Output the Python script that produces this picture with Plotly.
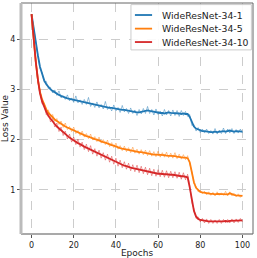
import plotly.graph_objects as go

epochs = list(range(101))

wrn1_smooth = [4.50,4.20,3.95,3.68,3.45,3.30,3.18,3.10,3.04,3.00,
2.97,2.94,2.91,2.89,2.87,2.85,2.84,2.82,2.81,2.80,
2.79,2.78,2.77,2.76,2.75,2.74,2.73,2.72,2.71,2.70,
2.69,2.68,2.67,2.66,2.66,2.65,2.64,2.63,2.63,2.62,
2.61,2.61,2.60,2.59,2.59,2.58,2.58,2.57,2.56,2.55,
2.54,2.54,2.55,2.56,2.57,2.58,2.57,2.56,2.55,2.54,
2.54,2.53,2.53,2.52,2.53,2.54,2.53,2.53,2.52,2.53,
2.52,2.51,2.52,2.51,2.51,2.45,2.34,2.26,2.22,2.20,
2.18,2.17,2.17,2.16,2.16,2.15,2.15,2.16,2.15,2.16,
2.16,2.17,2.16,2.17,2.18,2.17,2.16,2.17,2.17,2.16,2.16]

wrn1_raw = [4.50,4.24,3.92,3.74,3.41,3.33,3.14,3.16,3.01,3.04,
2.93,2.99,2.88,2.97,2.83,2.87,2.80,2.89,2.77,2.83,
2.74,2.87,2.73,2.79,2.70,2.80,2.70,2.84,2.66,2.73,
2.64,2.75,2.63,2.70,2.61,2.76,2.60,2.66,2.57,2.69,
2.57,2.64,2.54,2.68,2.55,2.62,2.52,2.63,2.52,2.59,
2.48,2.60,2.51,2.62,2.52,2.66,2.52,2.60,2.49,2.61,
2.50,2.57,2.47,2.60,2.49,2.58,2.47,2.59,2.48,2.58,
2.46,2.58,2.48,2.56,2.46,2.50,2.28,2.30,2.17,2.24,
2.14,2.21,2.13,2.21,2.12,2.18,2.11,2.22,2.11,2.19,
2.12,2.23,2.12,2.21,2.13,2.22,2.12,2.20,2.13,2.21,2.13]

wrn5_smooth = [4.50,4.00,3.55,3.20,2.95,2.80,2.68,2.60,2.53,2.48,
2.44,2.40,2.37,2.34,2.31,2.28,2.26,2.24,2.22,2.20,
2.18,2.16,2.14,2.12,2.11,2.09,2.07,2.06,2.04,2.03,
2.01,2.00,1.98,1.97,1.95,1.94,1.92,1.90,1.89,1.88,
1.86,1.85,1.83,1.82,1.81,1.80,1.79,1.78,1.78,1.77,
1.76,1.75,1.75,1.74,1.73,1.72,1.72,1.71,1.70,1.70,
1.70,1.69,1.69,1.69,1.68,1.68,1.68,1.67,1.67,1.66,
1.65,1.65,1.64,1.64,1.63,1.55,1.33,1.15,1.04,0.99,
0.96,0.95,0.94,0.93,0.93,0.92,0.92,0.91,0.92,0.92,
0.91,0.92,0.92,0.91,0.93,0.91,0.90,0.89,0.89,0.88,0.88]

wrn5_raw = [4.50,3.96,3.60,3.15,2.99,2.76,2.73,2.56,2.59,2.44,
2.50,2.36,2.42,2.30,2.37,2.24,2.33,2.20,2.26,2.16,
2.25,2.12,2.18,2.08,2.17,2.05,2.12,2.02,2.11,1.99,
2.06,1.96,2.05,1.93,2.00,1.90,1.99,1.86,1.94,1.84,
1.93,1.81,1.88,1.78,1.87,1.76,1.84,1.74,1.85,1.73,
1.81,1.71,1.80,1.70,1.79,1.68,1.78,1.67,1.76,1.66,
1.77,1.65,1.74,1.65,1.75,1.64,1.73,1.63,1.74,1.62,
1.71,1.61,1.70,1.60,1.68,1.52,1.36,1.12,1.07,0.96,
0.99,0.92,0.97,0.90,0.96,0.89,0.95,0.88,0.96,0.89,
0.94,0.89,0.97,0.88,0.96,0.88,0.93,0.86,0.92,0.85,0.90]

wrn10_smooth = [4.50,4.00,3.55,3.20,2.92,2.76,2.64,2.55,2.47,2.41,
2.36,2.31,2.26,2.22,2.18,2.14,2.11,2.07,2.04,2.01,
1.98,1.96,1.93,1.91,1.88,1.86,1.84,1.82,1.80,1.77,
1.75,1.73,1.71,1.69,1.67,1.65,1.63,1.61,1.59,1.57,
1.55,1.53,1.51,1.50,1.48,1.47,1.45,1.44,1.43,1.42,
1.41,1.40,1.39,1.38,1.37,1.36,1.35,1.34,1.33,1.33,
1.32,1.32,1.31,1.31,1.31,1.30,1.30,1.30,1.29,1.29,
1.28,1.27,1.27,1.26,1.25,1.05,0.78,0.58,0.47,0.42,
0.40,0.39,0.38,0.38,0.37,0.37,0.37,0.36,0.37,0.37,
0.37,0.37,0.38,0.37,0.38,0.38,0.38,0.38,0.39,0.39,0.39]

wrn10_raw = [4.50,3.95,3.60,3.14,2.97,2.71,2.70,2.49,2.53,2.35,
2.42,2.25,2.33,2.16,2.25,2.08,2.17,2.01,2.11,1.95,
2.05,1.90,2.01,1.85,1.95,1.80,1.91,1.76,1.88,1.71,
1.82,1.67,1.79,1.63,1.74,1.59,1.71,1.55,1.67,1.51,
1.63,1.47,1.59,1.44,1.56,1.41,1.53,1.38,1.50,1.36,
1.49,1.34,1.47,1.32,1.45,1.30,1.43,1.28,1.41,1.27,
1.40,1.26,1.39,1.25,1.38,1.24,1.37,1.24,1.36,1.23,
1.35,1.21,1.34,1.20,1.31,1.10,0.74,0.62,0.43,0.46,
0.36,0.43,0.34,0.42,0.33,0.41,0.33,0.40,0.33,0.41,
0.33,0.41,0.34,0.41,0.34,0.42,0.34,0.42,0.35,0.43,0.36]

names = ["WideResNet-34-1", "WideResNet-34-5", "WideResNet-34-10"]
colors = ["#1f77b4", "#ff7f0e", "#d62728"]
light = ["rgba(31,119,180,0.45)", "rgba(255,127,14,0.45)", "rgba(214,39,40,0.45)"]
smooth = [wrn1_smooth, wrn5_smooth, wrn10_smooth]
raw = [wrn1_raw, wrn5_raw, wrn10_raw]

x_ticks = [0, 20, 40, 60, 80, 100]
y_ticks = [1, 2, 3, 4]

fig = go.Figure()
for i in range(3):
    fig.add_trace(go.Scatter(x=epochs, y=raw[i], mode="lines",
                             line=dict(color=light[i], width=1),
                             showlegend=False, hoverinfo="skip"))
for i in range(3):
    fig.add_trace(go.Scatter(x=epochs, y=smooth[i], mode="lines", name=names[i],
                             line=dict(color=colors[i], width=1.8), showlegend=False))

font = "DejaVu Sans"
fig.update_layout(
    width=257, height=258,
    margin=dict(l=21, r=4, t=3, b=24, autoexpand=False),
    paper_bgcolor="white", plot_bgcolor="white",
    font=dict(family=font, size=8, color="#222"),
    showlegend=False,
)
fig.update_xaxes(range=[-5, 105], tickvals=x_ticks, ticks="outside", ticklen=3,
                 tickcolor="#555", showgrid=True, gridcolor="#cccccc", griddash="dash",
                 gridwidth=0.8, zeroline=False, showline=False, automargin=False,
                 title=dict(text="Epochs", font=dict(size=9), standoff=1),
                 tickfont=dict(size=8))
fig.update_yaxes(range=[0.12, 4.72], tickvals=y_ticks, ticks="outside", ticklen=3,
                 tickcolor="#555", showgrid=True, gridcolor="#cccccc", griddash="dash",
                 gridwidth=0.8, zeroline=False, showline=False, automargin=False,
                 title=dict(text="Loss Value", font=dict(size=9), standoff=1),
                 tickfont=dict(size=8))
# spines
fig.add_shape(type="line", xref="paper", yref="paper", x0=0, x1=1, y0=0, y1=0,
              line=dict(color="#555555", width=1.2))
fig.add_shape(type="line", xref="paper", yref="paper", x0=0, x1=1, y0=1, y1=1,
              line=dict(color="#666666", width=1))
fig.add_shape(type="line", xref="paper", yref="paper", x0=1, x1=1, y0=0, y1=1,
              line=dict(color="#666666", width=1))
fig.add_shape(type="line", xref="paper", yref="paper", x0=0, x1=0, y0=0, y1=1,
              line=dict(color="#bbbbbb", width=3))

# legend box (drawn manually to match compact spacing)
fig.add_shape(type="rect", xref="paper", yref="paper", x0=0.474, x1=0.993, y0=0.797, y1=0.993,
              line=dict(color="#cccccc", width=1), fillcolor="rgba(255,255,255,0.9)")
legend_y = [0.948, 0.889, 0.831]
for i in range(3):
    fig.add_shape(type="line", xref="paper", yref="paper", x0=0.491, x1=0.565,
                  y0=legend_y[i], y1=legend_y[i], line=dict(color=colors[i], width=1.8))
    fig.add_annotation(text=names[i], xref="paper", yref="paper", x=0.597, y=legend_y[i],
                       xanchor="left", yanchor="middle", showarrow=False,
                       font=dict(size=9.3, family=font, color="#222"))

fig.write_html("out.html", config={"displayModeBar": False},
               post_script="document.body.style.margin='0';document.body.style.overflow='hidden';")
